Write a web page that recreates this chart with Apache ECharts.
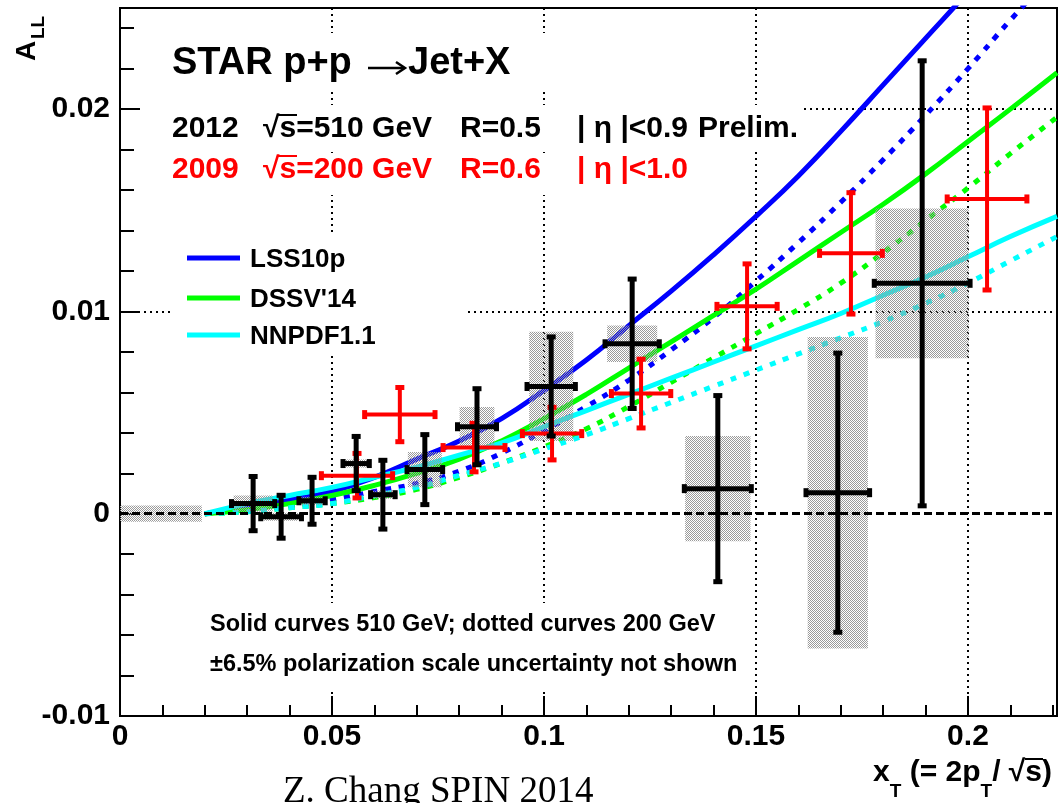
<!DOCTYPE html>
<html>
<head>
<meta charset="utf-8">
<script src="https://cdn.jsdelivr.net/npm/echarts@6.0.0/dist/echarts.min.js"></script>
<style>
html, body { margin: 0; padding: 0; background: #fff; }
#container_all { width: 1059px; height: 803px; }
</style>
</head>
<body>
<div id="container_all"></div>
<script>
// theory curves, sampled along x_T
const curveX = [0.02, 0.03, 0.04, 0.05, 0.06, 0.07, 0.08, 0.09, 0.10, 0.11, 0.12,
    0.13, 0.14, 0.15, 0.16, 0.17, 0.18, 0.19, 0.20, 0.21, 0.221];
const lss510 = [0, 0.0003, 0.0007, 0.0011, 0.0018, 0.0027, 0.0036, 0.0047, 0.0061, 0.0076, 0.0093,
    0.0110, 0.0128, 0.0147, 0.0167, 0.0189, 0.0212, 0.0235, 0.0258, 0.0282, 0.0308];
const lss200 = [0, 0.0002, 0.0004, 0.0007, 0.0011, 0.0015, 0.0021, 0.0030, 0.0041, 0.0053, 0.0066,
    0.0081, 0.0097, 0.0115, 0.0134, 0.0154, 0.0175, 0.0197, 0.0220, 0.0244, 0.0269];
const dssv510 = [0, 0.0002, 0.0005, 0.0009, 0.0014, 0.0020, 0.0027, 0.0036, 0.0047, 0.0059, 0.0072,
    0.0085, 0.0098, 0.0111, 0.0125, 0.0139, 0.0153, 0.0168, 0.0184, 0.0200, 0.0218];
const dssv200 = [0, 0.0001, 0.0003, 0.0005, 0.0008, 0.0012, 0.0018, 0.0025, 0.0033, 0.0042, 0.0053,
    0.0065, 0.0077, 0.0089, 0.0101, 0.0114, 0.0129, 0.0145, 0.0161, 0.0178, 0.0196];
const nnpdf510 = [0, 0.0005, 0.0009, 0.0013, 0.0018, 0.0023, 0.0029, 0.0035, 0.0043, 0.0051, 0.0059,
    0.0067, 0.0075, 0.0083, 0.0091, 0.0099, 0.0108, 0.0117, 0.0127, 0.0137, 0.0147];
const nnpdf200 = [0, 0.0001, 0.0003, 0.0005, 0.0009, 0.0013, 0.0019, 0.0025, 0.0032, 0.0039, 0.0047,
    0.0055, 0.0063, 0.0071, 0.0079, 0.0087, 0.0095, 0.0104, 0.0114, 0.0125, 0.0137];

// 2012, sqrt(s)=510 GeV
const run12X = [0.0314, 0.0380, 0.0453, 0.0557, 0.0620, 0.0719, 0.0842, 0.1017, 0.1208, 0.1410, 0.1693, 0.1892];
const run12Y = [0.0005, -0.00015, 0.00064, 0.00248, 0.00094, 0.00218, 0.0043, 0.00629, 0.0084, 0.00124, 0.00104, 0.01139];
const run12XErr = [0.0051, 0.0048, 0.0031, 0.0031, 0.0029, 0.0042, 0.0046, 0.0057, 0.0064, 0.0079, 0.0075, 0.0113];
const run12YErr = [0.00134, 0.00106, 0.00116, 0.00134, 0.0017, 0.00173, 0.00188, 0.00245, 0.0032, 0.0046, 0.0069, 0.011];
const run12SysW = [0.0046, 0.0040, 0.0030, 0.0030, 0.0030, 0.0040, 0.0041, 0.0052, 0.0059, 0.0077, 0.0071, 0.0110];
const run12Sys = [0.0004, 0.0002, 0.0002, 0.0002, 0.0002, 0.00087, 0.00097, 0.0027, 0.0009, 0.0026, 0.0077, 0.0037];

// 2009, sqrt(s)=200 GeV
const run9X = [0.0559, 0.0660, 0.0835, 0.1019, 0.1229, 0.1479, 0.1724, 0.2045];
const run9Y = [0.00188, 0.0049, 0.00327, 0.00396, 0.00594, 0.01025, 0.01287, 0.01556];
const run9XErr = [0.0084, 0.0083, 0.0073, 0.0070, 0.0070, 0.0071, 0.0074, 0.0094];
const run9YErr = [0.0011, 0.00134, 0.0012, 0.0013, 0.0017, 0.0021, 0.0030, 0.0045];

// grey band at low x_T
const bandX = [0.00965];
const bandY = [0];
const bandW = [0.00965];
const bandH = [0.0004];

const xTicks = ['0', '0.05', '0.1', '0.15', '0.2'];
const yTicks = ['-0.01', '0', '0.01', '0.02'];

const X_MAX = 0.221;
const Y_MIN = -0.01;
const Y_MAX = 0.025;

const FONT = '"Liberation Sans", Arial, Helvetica, sans-serif';

function greyPattern() {
    const c = document.createElement('canvas');
    c.width = 2;
    c.height = 2;
    const ctx = c.getContext('2d');
    ctx.fillStyle = '#9a9a9a';
    ctx.fillRect(0, 0, 1, 1);
    ctx.fillRect(1, 1, 1, 1);
    return { image: c, repeat: 'repeat' };
}

function zip(xs, ys) {
    return xs.map((x, i) => [x, ys[i]]);
}

function curve(name, ys, color, dotted) {
    return {
        name: name,
        type: 'line',
        data: zip(curveX, ys),
        smooth: 0.5,
        showSymbol: false,
        z: 2,
        lineStyle: {
            color: color,
            width: 5,
            type: dotted ? [6, 8] : 'solid'
        }
    };
}

function crossRenderer(color, lw) {
    return function (params, api) {
        const x = api.value(0), y = api.value(1), dx = api.value(2), dy = api.value(3);
        const c = api.coord([x, y]);
        const l = api.coord([x - dx, y]);
        const r = api.coord([x + dx, y]);
        const t = api.coord([x, y + dy]);
        const b = api.coord([x, y - dy]);
        const st = { stroke: color, lineWidth: lw };
        const fill = { fill: color };
        const cap = 4.5;
        return {
            type: 'group',
            children: [
                { type: 'line', shape: { x1: l[0], y1: c[1], x2: r[0], y2: c[1] }, style: st },
                { type: 'line', shape: { x1: c[0], y1: t[1], x2: c[0], y2: b[1] }, style: st },
                { type: 'rect', shape: { x: l[0] - 2.5, y: c[1] - cap, width: 5, height: 2 * cap }, style: fill },
                { type: 'rect', shape: { x: r[0] - 2.5, y: c[1] - cap, width: 5, height: 2 * cap }, style: fill },
                { type: 'rect', shape: { x: c[0] - cap, y: t[1] - 2.5, width: 2 * cap, height: 5 }, style: fill },
                { type: 'rect', shape: { x: c[0] - cap, y: b[1] - 2.5, width: 2 * cap, height: 5 }, style: fill }
            ]
        };
    };
}

function boxRenderer(pattern) {
    return function (params, api) {
        const x = api.value(0), y = api.value(1), w = api.value(2), h = api.value(3);
        const p0 = api.coord([x - w, y + h]);
        const p1 = api.coord([x + w, y - h]);
        return {
            type: 'rect',
            shape: { x: p0[0], y: p0[1], width: p1[0] - p0[0], height: p1[1] - p0[1] },
            style: { fill: pattern }
        };
    };
}

function fmt(v) {
    return String(parseFloat(v.toFixed(4)));
}

function textEl(x, y, text, font, color, extra) {
    return Object.assign({
        type: 'text',
        x: x,
        y: y,
        z: 2,
        style: {
            text: text,
            font: font,
            fill: color || '#000',
            align: 'left',
            verticalAlign: 'middle',
            textAlign: 'left',
            textVerticalAlign: 'middle'
        }
    }, extra || {});
}

function whiteBox(x, y, w, h) {
    return { type: 'rect', z: 1, shape: { x: x, y: y, width: w, height: h }, style: { fill: '#fff' } };
}

function segment(x1, y1, x2, y2, color, w) {
    return { type: 'line', z: 2, shape: { x1: x1, y1: y1, x2: x2, y2: y2 }, style: { stroke: color, lineWidth: w } };
}

function drawAsymmetryChart() {
    const myChart = echarts.init(document.getElementById('container_all'), null, {
        renderer: 'canvas'
    });
    const pattern = greyPattern();

    const run12 = run12X.map((x, i) => [x, run12Y[i], run12XErr[i], run12YErr[i]]);
    const run12Box = run12X.map((x, i) => [x, run12Y[i], run12SysW[i], run12Sys[i]]);
    const run9 = run9X.map((x, i) => [x, run9Y[i], run9XErr[i], run9YErr[i]]);
    const band = bandX.map((x, i) => [x, bandY[i], bandW[i], bandH[i]]);

    const bold30 = 'bold 30px ' + FONT;
    const bold38 = 'bold 38px ' + FONT;
    const red = '#ff0000';

    const option = {
        animation: false,
        backgroundColor: '#fff',
        grid: {
            left: 120,
            right: 2,
            top: 8,
            bottom: 87,
            show: true,
            borderColor: '#000',
            borderWidth: 2
        },
        xAxis: [{
            type: 'value',
            min: 0,
            max: X_MAX,
            interval: 0.05,
            position: 'bottom',
            axisLine: { onZero: false, lineStyle: { color: '#000', width: 2 } },
            axisTick: { inside: true, length: 20, lineStyle: { color: '#000', width: 2 } },
            axisLabel: {
                showMaxLabel: false,
                margin: 6,
                color: '#000',
                fontSize: 30,
                fontWeight: 'bold',
                fontFamily: FONT,
                formatter: v => xTicks.indexOf(fmt(v)) >= 0 ? fmt(v) : ''
            },
            splitLine: { show: true, lineStyle: { color: '#000', width: 2, type: [2, 4] } }
        }, {
            type: 'value',
            min: 0,
            max: X_MAX,
            interval: 0.01,
            position: 'bottom',
            axisLine: { show: false, onZero: false },
            axisTick: { inside: true, length: 11, lineStyle: { color: '#000', width: 2 } },
            axisLabel: { show: false },
            splitLine: { show: false }
        }],
        yAxis: [{
            type: 'value',
            min: Y_MIN,
            max: Y_MAX,
            interval: 0.01,
            position: 'left',
            axisLine: { onZero: false, lineStyle: { color: '#000', width: 2 } },
            axisTick: { inside: true, length: 20, lineStyle: { color: '#000', width: 2 } },
            axisLabel: {
                showMaxLabel: false,
                margin: 10,
                color: '#000',
                fontSize: 30,
                fontWeight: 'bold',
                fontFamily: FONT,
                formatter: v => yTicks.indexOf(fmt(v)) >= 0 ? fmt(v) : ''
            },
            splitLine: { show: true, lineStyle: { color: '#000', width: 2, type: [2, 4] } }
        }, {
            type: 'value',
            min: Y_MIN,
            max: Y_MAX,
            interval: 0.002,
            position: 'left',
            axisLine: { show: false, onZero: false },
            axisTick: { inside: true, length: 14, lineStyle: { color: '#000', width: 2 } },
            axisLabel: { show: false },
            splitLine: { show: false }
        }],
        series: [
            {
                name: 'zero',
                type: 'line',
                data: [],
                z: 2,
                markLine: {
                    silent: true,
                    symbol: ['none', 'none'],
                    label: { show: false },
                    lineStyle: { color: '#000', width: 3, type: [8, 4] },
                    data: [{ yAxis: 0 }]
                }
            },
            curve('LSS10p 510', lss510, '#0000ff', false),
            curve('LSS10p 200', lss200, '#0000ff', true),
            curve("DSSV'14 510", dssv510, '#00ff00', false),
            curve("DSSV'14 200", dssv200, '#00ff00', true),
            curve('NNPDF1.1 510', nnpdf510, '#00ffff', false),
            curve('NNPDF1.1 200', nnpdf200, '#00ffff', true),
            {
                name: 'band',
                type: 'custom',
                z: 3,
                clip: true,
                encode: { x: 0, y: 1 },
                data: band,
                renderItem: boxRenderer(pattern)
            },
            {
                name: '2012 syst',
                type: 'custom',
                z: 3,
                clip: true,
                encode: { x: 0, y: 1 },
                data: run12Box,
                renderItem: boxRenderer(pattern)
            },
            {
                name: '2009',
                type: 'custom',
                z: 4,
                clip: true,
                encode: { x: 0, y: 1 },
                data: run9,
                renderItem: crossRenderer(red, 4)
            },
            {
                name: '2012',
                type: 'custom',
                z: 5,
                clip: true,
                encode: { x: 0, y: 1 },
                data: run12,
                renderItem: crossRenderer('#000', 5)
            }
        ],
        graphic: [
            whiteBox(140, 33, 560, 57),
            whiteBox(140, 105, 660, 44),
            whiteBox(140, 153, 560, 42),
            whiteBox(173, 235, 294, 120),
            whiteBox(180, 603, 565, 87),

            // STAR p+p -> Jet+X
            textEl(172, 64, 'STAR p+p', bold38),
            segment(368, 68, 404, 68, '#000', 2.5),
            {
                type: 'polyline',
                z: 2,
                shape: { points: [[396, 62], [405, 68], [396, 74]] },
                style: { stroke: '#000', lineWidth: 2.5, fill: null }
            },
            textEl(408, 64, 'Jet+X', bold38),

            textEl(172, 129, '2012', bold30),
            textEl(263, 129, '\u221As=510 GeV', bold30),
            segment(278, 115, 297, 115, '#000', 2),
            textEl(460, 129, 'R=0.5', bold30),
            textEl(577, 129, '| \u03B7 |<0.9', bold30),
            textEl(698, 129, 'Prelim.', bold30),

            textEl(172, 170, '2009', bold30, red),
            textEl(263, 170, '\u221As=200 GeV', bold30, red),
            segment(278, 156, 297, 156, red, 2),
            textEl(460, 170, 'R=0.6', bold30, red),
            textEl(577, 170, '| \u03B7 |<1.0', bold30, red),

            segment(187, 258, 240, 258, '#0000ff', 5),
            segment(187, 298, 240, 298, '#00ff00', 5),
            segment(187, 335, 240, 335, '#00ffff', 5),
            textEl(250, 260, 'LSS10p', 'bold 26px ' + FONT),
            textEl(250, 300, "DSSV'14", 'bold 26px ' + FONT),
            textEl(250, 337, 'NNPDF1.1', 'bold 26px ' + FONT),

            textEl(210, 625, 'Solid curves 510 GeV; dotted curves 200 GeV', 'bold 23.5px ' + FONT),
            textEl(210, 665, '\u00B16.5% polarization scale uncertainty not shown', 'bold 23.5px ' + FONT),

            textEl(27, 61, 'A', 'bold 28px ' + FONT, '#000', { rotation: Math.PI / 2 }),
            textEl(39, 39, 'LL', 'bold 19px ' + FONT, '#000', { rotation: Math.PI / 2 }),

            {
                type: 'text',
                x: 1052,
                y: 773,
                z: 2,
                style: {
                    text: '{n|x}{s|T}{n| (= 2p}{s|T}{n|/ \u221As)}',
                    align: 'right',
                    verticalAlign: 'middle',
                    textAlign: 'right',
                    textVerticalAlign: 'middle',
                    rich: {
                        n: { font: 'bold 30px ' + FONT, fill: '#000', lineHeight: 56, verticalAlign: 'middle' },
                        s: { font: 'bold 19px ' + FONT, fill: '#000', lineHeight: 56, verticalAlign: 'bottom' }
                    }
                }
            },
            segment(1025, 759, 1043, 759, '#000', 2),

            textEl(283, 792, 'Z. Chang SPIN 2014', '37px "Liberation Serif", "Times New Roman", serif')
        ]
    };
    myChart.setOption(option);
}

drawAsymmetryChart();
</script>
</body>
</html>
